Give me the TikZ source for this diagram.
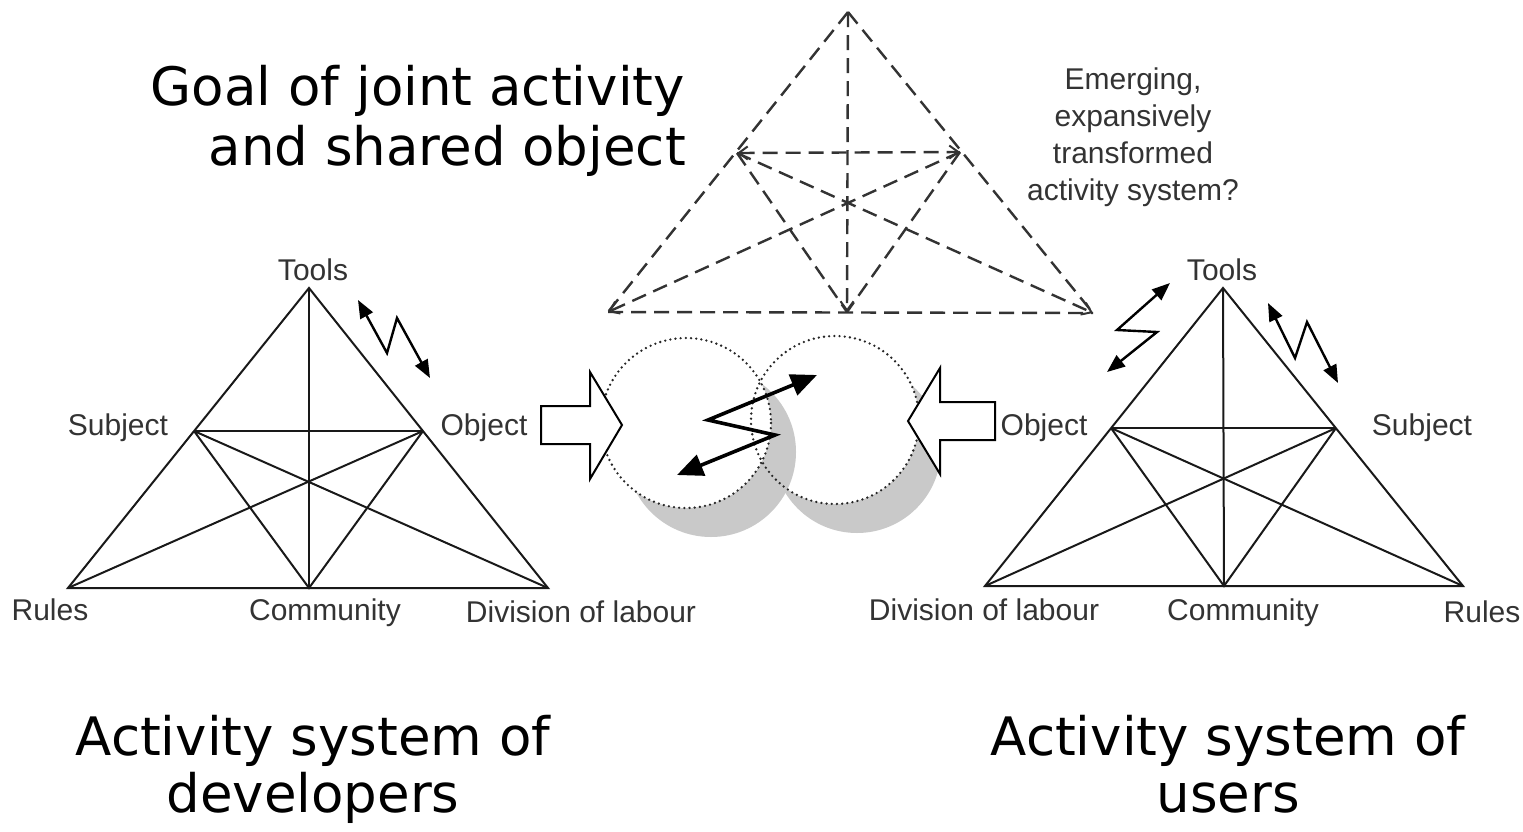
\documentclass[tikz,border=0pt]{standalone}
\usepackage{fontspec}
\setmainfont{Liberation Sans}
\newfontfamily\headfont{DejaVu Sans}
\usetikzlibrary{arrows.meta,calc}
\begin{document}
\begin{tikzpicture}[x=1pt,y=-1pt,
  lbl/.style={font=\fontsize{30}{37}\selectfont, text=black!80, inner sep=0pt, anchor=base},
  headtxt/.style={font=\headfont\fontsize{53}{58}\selectfont, inner sep=0pt},
  edge/.style={line width=2pt, draw=black!90},
  dsh/.style={line width=2.4pt, draw=black!80, dash pattern=on 15pt off 8pt},
  barb/.tip={Straight Barb[length=9pt,width=13pt,line width=2pt]},
  dtip/.style={-barb},
  zz/.style={line width=2.4pt, draw=black, line join=miter,
    {Triangle[length=18pt,width=14pt]}-{Triangle[length=18pt,width=14pt]}},
  zzbig/.style={line width=3.6pt, draw=black, line join=miter,
    {Triangle[length=26pt,width=22pt]}-{Triangle[length=26pt,width=22pt]}},
  shade/.style={fill=black!21},
  ring/.style={draw=black!85, line width=2.6pt, dash pattern=on 0pt off 5.2pt, line cap=round},
  hollow/.style={draw=black, line width=2pt, fill=white, line join=miter}
]
\useasboundingbox (0,0) rectangle (1523,831);

% ---------- headings ----------
\node[headtxt, anchor=base east] (goal1) at (685,105) {Goal of joint activity};
\node[headtxt, anchor=base east] (goal2) at (686,165) {and shared object};
\node[headtxt, anchor=base] (dev1) at (313,755) {Activity system of};
\node[headtxt, anchor=base] (dev2) at (313,812) {developers};
\node[headtxt, anchor=base] (usr1) at (1228,755) {Activity system of};
\node[headtxt, anchor=base] (usr2) at (1228,812) {users};

% ---------- emerging (dashed) activity system ----------
\coordinate (eA)  at (848,12);
\coordinate (eBL) at (608,312);
\coordinate (eBR) at (1093,313);
\coordinate (eLM) at (737,153);
\coordinate (eRM) at (960,152);
\coordinate (eBM) at (847,312);
\draw[dsh] (eA) -- (eBL);
\draw[dsh] (eA) -- (eBR);
\draw[dsh] (eBL) -- (eBR);
\draw[dsh, dtip] (eA) -- (eBM);
\draw[dsh, barb-barb] (eLM) -- (eRM);
\draw[dsh] (eLM) -- (eBM);
\draw[dsh] (eRM) -- (eBM);
\draw[dsh, dtip] (eLM) -- (eBR);
\draw[dsh, dtip] (eRM) -- (eBL);
\node[lbl, anchor=north, align=center] (emerg) at (1133,68)
  {Emerging,\\expansively\\transformed\\activity system?};

% ---------- shared object: two overlapping circles ----------
\coordinate (cL) at (686,423);
\coordinate (cR) at (835,420);
\fill[shade] ($(cR)+(22,29)$) circle (84);
\fill[white] (cR) circle (84);
\fill[shade] ($(cL)+(25,29)$) circle (85);
\fill[white] (cL) circle (85);
\draw[ring] (cL) circle (85);
\draw[ring] (cR) circle (84);

% zigzag between the two objects
\coordinate (zc1) at (817,375);
\coordinate (zc2) at (708,420);
\coordinate (zc3) at (775,435);
\coordinate (zc4) at (677,475);
\draw[zzbig] (zc1) -- (zc2) -- (zc3) -- (zc4);

% hollow arrows into the shared object
\draw[hollow] (541,406) -- (590,406) -- (590,372) -- (622,425) -- (590,479) -- (590,444) -- (541,444) -- cycle;
\draw[hollow] (995,402) -- (940,402) -- (940,368) -- (908,421) -- (940,474) -- (940,440) -- (995,440) -- cycle;

% ---------- activity system of developers ----------
\coordinate (dT) at (309,288);
\coordinate (dS) at (194,431);
\coordinate (dO) at (423,431);
\coordinate (dR) at (68,588);
\coordinate (dC) at (309,588);
\coordinate (dD) at (548,588);
\draw[edge] (dT) -- (dR) -- (dD) -- cycle;
\draw[edge] (dT) -- (dC);
\draw[edge] (dS) -- (dO);
\draw[edge] (dS) -- (dC) -- (dO);
\draw[edge] (dS) -- (dD);
\draw[edge] (dO) -- (dR);
\node[lbl] (dTl) at (313,280) {Tools};
\node[lbl] (dSl) at (118,435) {Subject};
\node[lbl] (dOl) at (484,435) {Object};
\node[lbl] (dRl) at (50,620) {Rules};
\node[lbl] (dCl) at (325,620) {Community};
\node[lbl] (dDl) at (581,622) {Division of labour};
\coordinate (dz1) at (358,300);
\coordinate (dz2) at (387,353);
\coordinate (dz3) at (397,318);
\coordinate (dz4) at (430,378);
\draw[zz] (dz1) -- (dz2) -- (dz3) -- (dz4);

% ---------- activity system of users ----------
\coordinate (uT) at (1223,288);
\coordinate (uO) at (1111,428);
\coordinate (uS) at (1336,428);
\coordinate (uD) at (985,586);
\coordinate (uC) at (1224,586);
\coordinate (uR) at (1463,586);
\draw[edge] (uT) -- (uD) -- (uR) -- cycle;
\draw[edge] (uT) -- (uC);
\draw[edge] (uO) -- (uS);
\draw[edge] (uO) -- (uC) -- (uS);
\draw[edge] (uO) -- (uR);
\draw[edge] (uS) -- (uD);
\node[lbl] (uTl) at (1222,280) {Tools};
\node[lbl] (uOl) at (1044,435) {Object};
\node[lbl] (uSl) at (1422,435) {Subject};
\node[lbl] (uDl) at (984,620) {Division of labour};
\node[lbl] (uCl) at (1243,620) {Community};
\node[lbl] (uRl) at (1482,622) {Rules};
\coordinate (uz1) at (1170,283);
\coordinate (uz2) at (1117,330);
\coordinate (uz3) at (1157,332);
\coordinate (uz4) at (1107,372);
\draw[zz] (uz1) -- (uz2) -- (uz3) -- (uz4);
\coordinate (uy1) at (1268,303);
\coordinate (uy2) at (1295,358);
\coordinate (uy3) at (1307,322);
\coordinate (uy4) at (1338,383);
\draw[zz] (uy1) -- (uy2) -- (uy3) -- (uy4);
\end{tikzpicture}
\end{document}
